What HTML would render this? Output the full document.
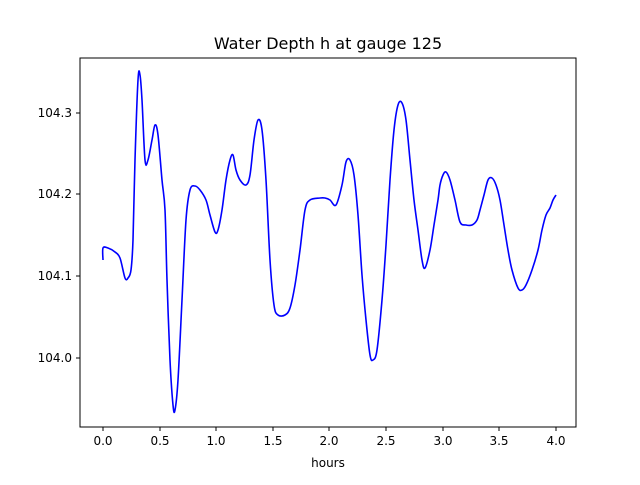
<!DOCTYPE html>
<html><head><meta charset="utf-8"><style>
body{margin:0;background:#fff;}
svg text{font-family:"DejaVu Sans","Liberation Sans",sans-serif;fill:#000;}
</style></head><body>
<svg width="640" height="480" viewBox="0 0 640 480" xmlns="http://www.w3.org/2000/svg">
<rect width="640" height="480" fill="#fff"/>
<text x="328" y="49" font-size="16" text-anchor="middle">Water Depth h at gauge 125</text>
<g stroke="#000" stroke-width="1">
<line x1="103" y1="427" x2="103" y2="431"/><line x1="160" y1="427" x2="160" y2="431"/>
<line x1="216" y1="427" x2="216" y2="431"/><line x1="273" y1="427" x2="273" y2="431"/>
<line x1="329" y1="427" x2="329" y2="431"/><line x1="386" y1="427" x2="386" y2="431"/>
<line x1="443" y1="427" x2="443" y2="431"/><line x1="499" y1="427" x2="499" y2="431"/>
<line x1="556" y1="427" x2="556" y2="431"/>
<line x1="76" y1="113" x2="80" y2="113"/><line x1="76" y1="194" x2="80" y2="194"/>
<line x1="76" y1="276" x2="80" y2="276"/><line x1="76" y1="358" x2="80" y2="358"/>
</g>
<g font-size="12" text-anchor="middle">
<text x="103" y="445">0.0</text><text x="160" y="445">0.5</text><text x="216" y="445">1.0</text>
<text x="273" y="445">1.5</text><text x="329" y="445">2.0</text><text x="386" y="445">2.5</text>
<text x="443" y="445">3.0</text><text x="499" y="445">3.5</text><text x="556" y="445">4.0</text>
<text x="328" y="467">hours</text>
</g>
<g font-size="12" text-anchor="end">
<text x="72" y="117">104.3</text><text x="72" y="198">104.2</text>
<text x="72" y="280">104.1</text><text x="72" y="362">104.0</text>
</g>
<path id="curve" fill="none" stroke="#0000ff" stroke-width="1.6" stroke-linejoin="round" d=""/>
<rect x="80" y="58" width="496" height="369" fill="none" stroke="#000" stroke-width="1"/>
</svg>
<script>
var s="103,260 103,248 108,248 115,252 120,258 125,278 128,278 131,270 133,240 135,160 138,80 140,75 142,100 145,160 148,160 152,140 155,125 158,135 162,180 165,210 167,280 170,360 173,405 175,410 178,380 182,300 186,220 190,190 195,186 200,190 206,200 210,215 215,232 218,230 222,210 226,180 230,160 233,155 236,170 240,180 246,185 250,175 254,140 258,120 262,130 266,180 270,260 274,305 278,315 285,315 290,308 295,285 300,250 305,210 310,200 320,198 325,198 330,200 336,205 342,185 346,162 350,160 354,175 358,215 362,275 366,320 370,355 373,360 377,350 382,300 386,245 390,180 394,130 398,105 402,103 406,120 410,160 414,200 418,230 422,260 425,268 430,250 434,225 438,200 440,185 443,175 446,172 450,180 455,200 460,222 466,225 472,225 477,220 480,210 484,195 488,180 492,178 496,185 500,200 504,225 508,250 512,270 518,288 522,290 526,285 532,270 538,250 542,230 546,215 550,208 553,200 556,195";
var p=s.split(" ").map(function(t){return t.split(",").map(Number);});
var d="M"+p[0][0]+","+p[0][1];
for(var i=0;i<p.length-1;i++){
var p0=p[Math.max(i-1,0)],p1=p[i],p2=p[i+1],p3=p[Math.min(i+2,p.length-1)];
var c1x=p1[0]+(p2[0]-p0[0])/6,c1y=p1[1]+(p2[1]-p0[1])/6;
var c2x=p2[0]-(p3[0]-p1[0])/6,c2y=p2[1]-(p3[1]-p1[1])/6;
d+=" C"+c1x.toFixed(2)+","+c1y.toFixed(2)+" "+c2x.toFixed(2)+","+c2y.toFixed(2)+" "+p2[0]+","+p2[1];
}
document.getElementById("curve").setAttribute("d",d);
</script>
</body></html>
